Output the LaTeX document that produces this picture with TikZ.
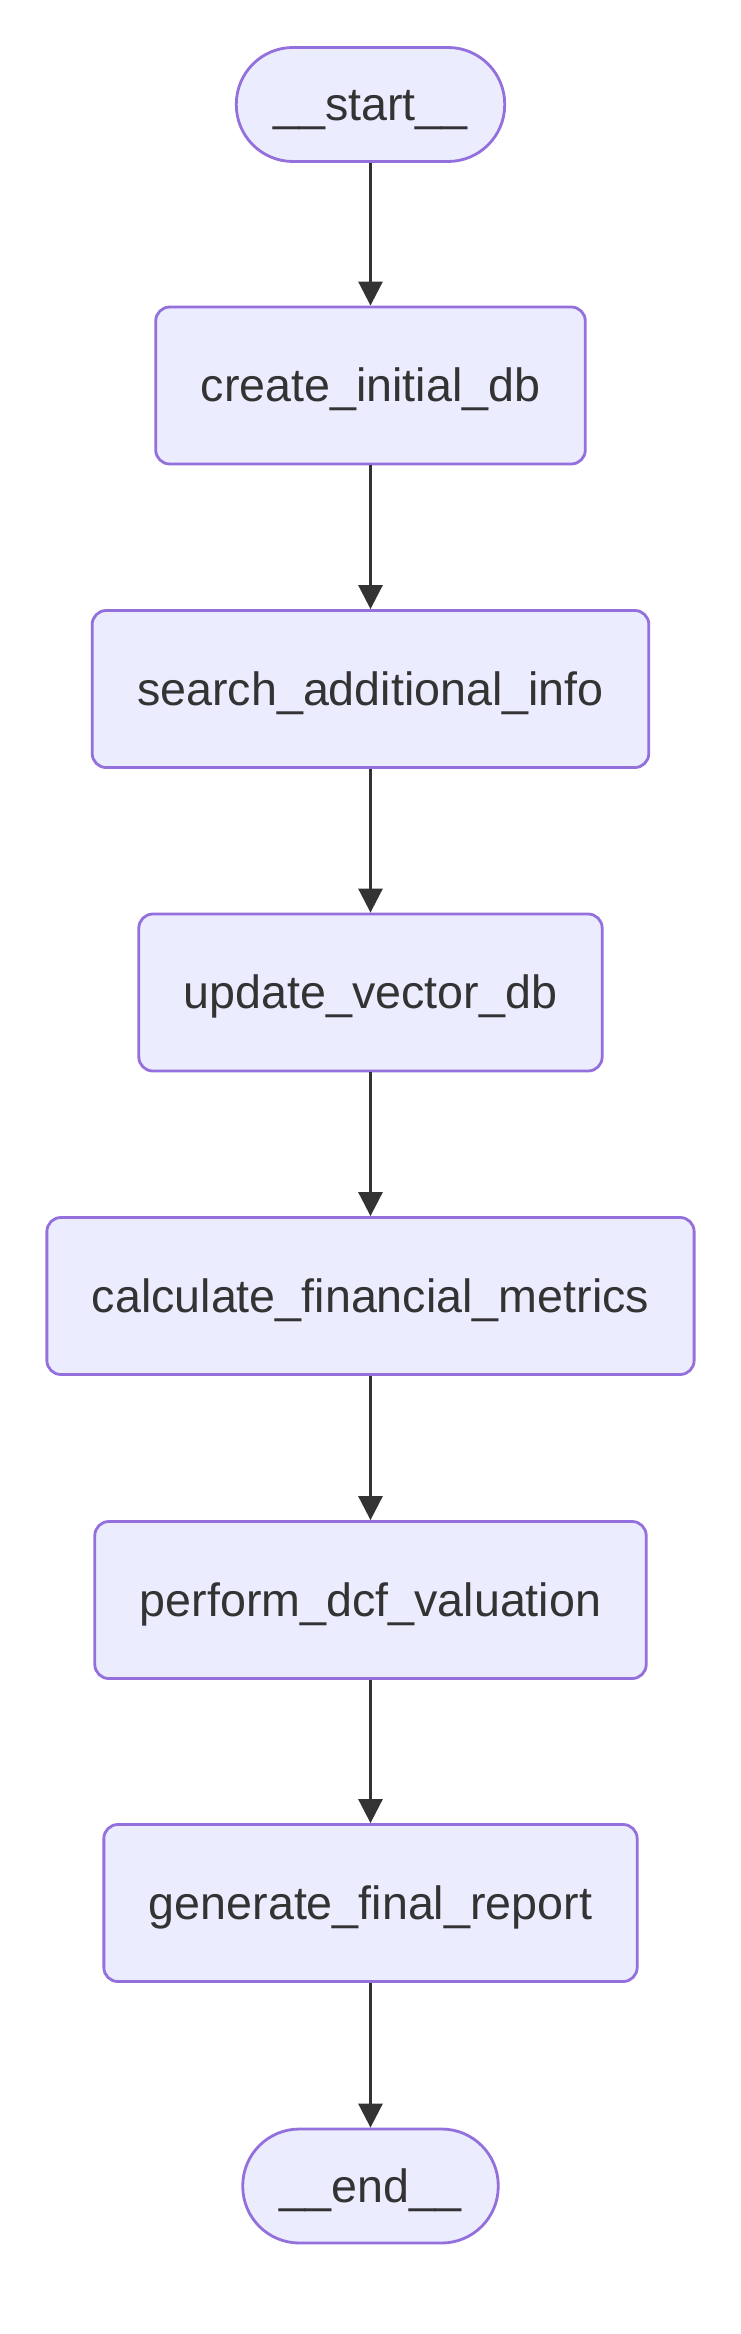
\documentclass[tikz,border=0pt]{standalone}
\usepackage{fontspec}
\setmainfont{Liberation Sans}
\usepackage{tikz}
\usetikzlibrary{positioning,arrows.meta}
\definecolor{nodefill}{HTML}{ECECFF}
\definecolor{nodeline}{HTML}{9370DB}
\definecolor{ink}{HTML}{333333}

\begin{document}
\begin{tikzpicture}[x=0.03cm, y=-0.03cm, every node/.style={font=\fontsize{39.8pt}{48pt}\selectfont, text=ink}]
\tikzstyle{stage}=[draw=nodeline, fill=nodefill, line width=2.4pt, rounded corners=0.42cm, minimum height=4.71cm, inner xsep=1.35cm, text height=36pt, text depth=8.6pt]
\tikzstyle{term}=[draw=nodeline, fill=nodefill, line width=2.4pt, rounded corners=1.7cm, minimum height=3.42cm, inner xsep=1.11cm, text height=36pt, text depth=8.6pt]
\tikzstyle{flow}=[draw=ink, line width=2.4pt, -{Triangle[length=0.72cm, width=0.72cm]}]
\useasboundingbox (0,0) rectangle (741,2334);
\node[term] (start) at (370.5,104.5) {\_\_start\_\_};
\node[stage] (initdb) at (370.5,385.5) {create\_initial\_db};
\node[stage] (search) at (370.5,689) {search\_additional\_info};
\node[stage] (vecdb) at (370.5,992.5) {update\_vector\_db};
\node[stage] (metrics) at (370.5,1296) {calculate\_financial\_metrics};
\node[stage] (dcf) at (370.5,1600) {perform\_dcf\_valuation};
\node[stage] (report) at (370.5,1903) {generate\_final\_report};
\node[term] (end) at (370.5,2186) {\_\_end\_\_};
\draw[flow] (start)--(initdb);
\draw[flow] (initdb)--(search);
\draw[flow] (search)--(vecdb);
\draw[flow] (vecdb)--(metrics);
\draw[flow] (metrics)--(dcf);
\draw[flow] (dcf)--(report);
\draw[flow] (report)--(end);
\end{tikzpicture}
\end{document}
